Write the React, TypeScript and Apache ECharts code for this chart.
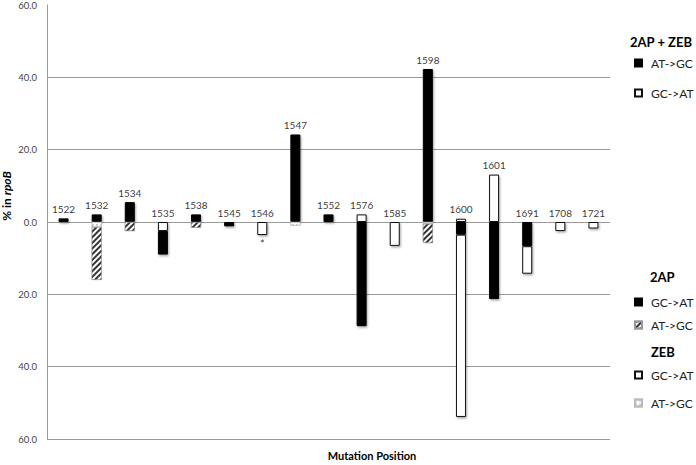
import React, { useEffect, useRef } from "react";
import * as echarts from "echarts";

const categories = ["1522", "1532", "1534", "1535", "1538", "1545", "1546", "1547", "1552", "1576", "1585", "1598", "1600", "1601", "1691", "1708", "1721"];
// 2AP + ZEB (positive side)
const comboATGC = [1.0, 2.1, 5.5, null, 2.1, null, null, 24.2, 2.1, null, null, 42.3, null, null, null, null, null];
const comboGCAT = [null, null, null, null, null, null, null, null, null, 2.1, null, null, 0.9, 13.1, null, null, null];
// negative side
const zebGCATTop = [null, null, null, -2.5, null, null, null, null, null, null, null, null, null, null, null, null, null];
const zebATGC = [null, -1.4, null, null, null, null, null, -1.0, null, null, null, -0.5, null, null, null, null, null];
const apATGC = [null, -14.6, -2.5, null, -1.6, null, null, null, null, null, null, -5.3, null, null, null, null, null];
const apGCAT = [null, null, null, -6.5, null, -1.2, null, null, null, -28.8, null, null, -3.5, -21.3, -6.7, null, null];
const zebGCAT = [null, null, null, null, null, null, -3.6, null, null, null, -6.6, null, -50.4, null, -7.6, -2.5, -1.8];
const starCategories = ["1546"];
const yTicks = [-60, -40, -20, 0, 20, 40, 60];

const FONT = "Lato";
const shadow = { shadowColor: "rgba(0,0,0,0.35)", shadowBlur: 2, shadowOffsetX: 1, shadowOffsetY: 1.5 };
const blackStyle = { color: "#000", borderColor: "#000", borderWidth: 1, ...shadow };
const whiteStyle = { color: "#fff", borderColor: "#111", borderWidth: 1, ...shadow };
const hatchStyle = {
  color: "#fff",
  borderColor: "#999",
  borderWidth: 0.5,
  decal: { symbol: "rect", color: "#333", dashArrayX: [1, 0], dashArrayY: [1.5, 1.6], rotation: -Math.PI / 4, symbolSize: 1 },
};
const dotStyle = {
  color: "#fff",
  borderColor: "#bbb",
  borderWidth: 0.5,
  decal: { symbol: "circle", color: "#b0b0b0", dashArrayX: [2, 1.5], dashArrayY: [2, 1.5], symbolSize: 0.8 },
};

export default function App() {
  const ref = useRef<HTMLDivElement>(null);
  useEffect(() => {
    document.body.style.margin = "0";
    const chart = echarts.init(ref.current!, null, { renderer: "svg" });
    const bar = (name: string, data: any[], itemStyle: any) => ({
      type: "bar",
      name,
      stack: "all",
      data,
      barWidth: 10,
      itemStyle,
    });
    const labelY = categories.map((c, i) => {
      const v = (comboATGC[i] || 0) + (comboGCAT[i] || 0);
      return Math.max(v, 0);
    });
    const negTotal = (cat: string) => {
      const i = categories.indexOf(cat);
      return [zebGCATTop, zebATGC, apATGC, apGCAT, zebGCAT].reduce((s, arr) => s + (arr[i] || 0), 0);
    };
    const legendBase = {
      orient: "vertical",
      itemWidth: 7,
      itemHeight: 7,
      padding: 0,
      icon: "rect",
      selectedMode: false,
      formatter: (n: string) => n.split("|")[1],
      textStyle: { fontSize: 12, color: "#222", fontFamily: FONT, padding: [0, 0, 0, 4], lineHeight: 14 },
    };
    chart.setOption({
      animation: false,
      grid: { left: 47, right: 86, top: 4, bottom: 26, containLabel: false },
      xAxis: {
        type: "category",
        data: categories,
        axisLine: { show: false },
        axisTick: { show: false },
        axisLabel: { show: false },
      },
      yAxis: {
        type: "value",
        min: yTicks[0],
        max: yTicks[yTicks.length - 1],
        interval: 20,
        axisLine: { show: true, lineStyle: { color: "#9a9a9a" } },
        axisTick: { show: false },
        axisLabel: {
          formatter: (v: number) => Math.abs(v).toFixed(1),
          fontSize: 9.5,
          color: "#444",
          fontFamily: FONT,
          margin: 10,
        },
        splitLine: {
          show: true,
          lineStyle: { color: ["#9a9a9a", "#9a9a9a", "#9a9a9a", "#9a9a9a", "#9a9a9a", "#9a9a9a", "rgba(0,0,0,0)"] },
        },
      },
      legend: [
        { ...legendBase, data: ["2AP + ZEB|AT->GC", "2AP + ZEB|GC->AT"], left: 634, top: 56, itemGap: 16 },
        { ...legendBase, data: ["2AP|GC->AT", "2AP|AT->GC"], left: 634, top: 295, itemGap: 9 },
        { ...legendBase, data: ["ZEB|GC->AT", "ZEB|AT->GC"], left: 634, top: 368, itemGap: 14 },
      ],
      series: [
        bar("2AP + ZEB|AT->GC", comboATGC, blackStyle),
        bar("2AP + ZEB|GC->AT", comboGCAT, whiteStyle),
        bar("ZEB|GC->AT (top)", zebGCATTop, whiteStyle),
        bar("ZEB|AT->GC", zebATGC, dotStyle),
        bar("2AP|AT->GC", apATGC, hatchStyle),
        bar("2AP|GC->AT", apGCAT, blackStyle),
        bar("ZEB|GC->AT", zebGCAT, whiteStyle),
        {
          type: "scatter",
          name: "labels",
          data: labelY,
          symbol: "circle",
          symbolSize: 1,
          itemStyle: { color: "rgba(0,0,0,0)" },
          silent: true,
          z: 5,
          label: {
            show: true,
            position: "top",
            distance: 4,
            formatter: (p: any) => categories[p.dataIndex],
            fontSize: 10,
            color: "#000",
            fontFamily: FONT,
          },
        },
        {
          type: "scatter",
          name: "star",
          data: starCategories.map((c) => [c, negTotal(c)]),
          symbol: "circle",
          symbolSize: 1,
          itemStyle: { color: "rgba(0,0,0,0)" },
          silent: true,
          z: 5,
          label: { show: true, position: "bottom", distance: 2, formatter: "*", fontSize: 11, color: "#000", fontFamily: FONT },
        },
      ],
      graphic: [
        { type: "text", left: 630, top: 35, style: { text: "2AP + ZEB", font: `bold 13px ${FONT}`, fill: "#000" } },
        { type: "text", left: 650, top: 270, style: { text: "2AP", font: `bold 13px ${FONT}`, fill: "#000" } },
        { type: "text", left: 651, top: 345, style: { text: "ZEB", font: `bold 13px ${FONT}`, fill: "#000" } },
        {
          type: "text",
          x: 372,
          y: 455,
          style: { text: "Mutation Position", font: `bold 11px ${FONT}`, fill: "#000", align: "center", verticalAlign: "middle" },
        },
        {
          type: "text",
          x: 6,
          y: 196,
          rotation: Math.PI / 2,
          style: {
            text: "{a|% in }{b|rpoB}",
            align: "center",
            verticalAlign: "middle",
            rich: {
              a: { font: `bold 12px ${FONT}`, fill: "#000" },
              b: { font: `italic bold 12px ${FONT}`, fill: "#000" },
            },
          },
        },
      ],
    });
    return () => chart.dispose();
  }, []);
  return <div ref={ref} style={{ width: 696, height: 465 }} />;
}
